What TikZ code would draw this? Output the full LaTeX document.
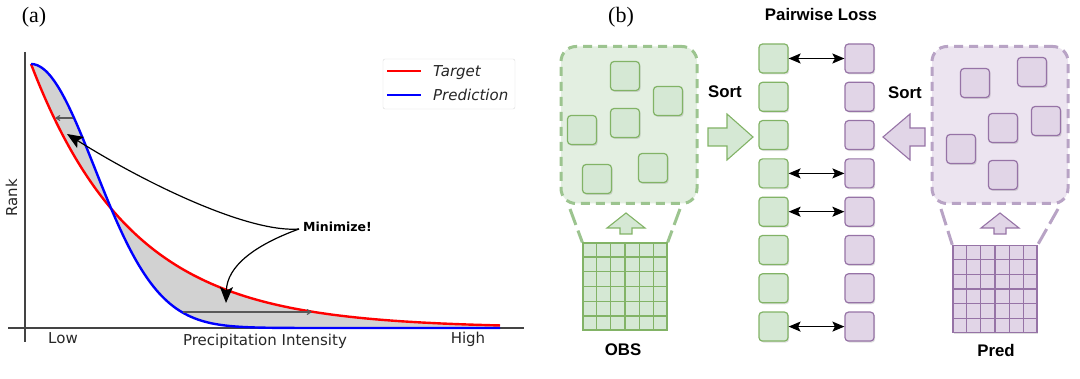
\documentclass[tikz,border=0pt]{standalone}
\usepackage{fontspec}
\usetikzlibrary{arrows.meta,calc,shadows}
\newfontfamily\djv{DejaVu Sans}
\newfontfamily\arl{Liberation Sans}
\newfontfamily\tnr{Liberation Serif}
\definecolor{gfill}{HTML}{D5E8D4}
\definecolor{gstroke}{HTML}{82B366}
\definecolor{gcont}{HTML}{E3EFE1}
\definecolor{gdash}{HTML}{9CC48F}
\definecolor{pfill}{HTML}{E1D5E7}
\definecolor{pstroke}{HTML}{9673A6}
\definecolor{pcont}{HTML}{ECE4F0}
\definecolor{pdash}{HTML}{B8A3C5}
\definecolor{axisgray}{HTML}{444444}
\tikzset{
  sqbox/.style={draw=#1stroke, fill=#1fill, line width=1.2pt, rounded corners=3.5pt,
    minimum width=29pt, minimum height=29pt, inner sep=0pt,
    drop shadow={shadow xshift=1.2pt, shadow yshift=-1.5pt, opacity=0.25}},
  contbox/.style={draw=#1dash, fill=#1cont, line width=3pt, dash pattern=on 9pt off 6pt,
    rounded corners=15pt, minimum width=136pt, minimum height=157pt, inner sep=0pt},
  gridbox/.style={draw=#1stroke, fill=#1fill, line width=1.4pt, minimum width=84pt,
    minimum height=87pt, inner sep=0pt,
    drop shadow={shadow xshift=1.2pt, shadow yshift=-1.5pt, opacity=0.25}},
  trap/.style={draw=#1dash, line width=3pt, dash pattern=on 17pt off 6pt},
  blockarrow/.style={draw=#1stroke, fill=#1fill, line width=1.1pt, line join=miter},
  pairarrow/.style={{Stealth[length=12pt,width=10pt,inset=2.5pt]}-{Stealth[length=12pt,width=10pt,inset=2.5pt]}, line width=1.5pt, black},
  btext/.style={font=\arl\bfseries\fontsize{16.8}{18}\selectfont, inner sep=0pt},
  axtext/.style={font=\djv\fontsize{15}{17}\selectfont, inner sep=0pt, text=black!85},
  bigtip/.style={-{Stealth[length=16pt,width=13pt,inset=3.5pt]}, line width=1.2pt, black},
  smalltip/.style={-{Straight Barb[length=4pt,width=5pt]}, line width=1.1pt, black!65},
}
\begin{document}
\begin{tikzpicture}[x=1pt,y=-1pt]
\useasboundingbox (0,0) rectangle (1080,379);

% ---------------- panel (a) ----------------
\node (la) [font=\tnr\fontsize{22}{24}\selectfont, inner sep=0pt] at (34,17) {(a)};

% shaded area between curves
\fill[gray!35] plot[domain=31:500, samples=150, smooth] (\x,{328-264*exp(-(\x-31)/101)})
  -- plot[domain=500:31, samples=150, smooth] (\x,{328-264*exp(-((\x-31)/90)^2)}) -- cycle;

% axes
\coordinate (yaxtop) at (25,52);
\coordinate (yaxbot) at (25,342);
\coordinate (xaxl) at (8,328);
\coordinate (xaxr) at (524,328);
\draw[axisgray, line width=1.3pt] (yaxtop) -- (yaxbot);
\draw[axisgray, line width=1.3pt] (xaxl) -- (xaxr);

% curves
\draw[red, line width=2.4pt] plot[domain=31:500, samples=150, smooth] (\x,{328-264*exp(-(\x-31)/101)});
\draw[blue, line width=2.4pt] plot[domain=31:500, samples=150, smooth] (\x,{328-264*exp(-((\x-31)/90)^2)});

% small gray arrows
\coordinate (ba1) at (73,118);
\coordinate (ra1) at (55,118);
\draw[smalltip] (ba1) -- (ra1);
\coordinate (ba2) at (183,312);
\coordinate (ra2) at (312,312);
\draw[smalltip] (ba2) -- (ra2);

% Minimize annotation
\node (minz) [font=\djv\bfseries\fontsize{12.5}{14}\selectfont, anchor=base west, inner sep=0pt] at (303,232) {Minimize!};
\coordinate (mz) at (299,229);
\coordinate (t1) at (67,134);
\coordinate (t2) at (226,303);
\draw[bigtip] (mz) .. controls (250,233) and (150,186) .. (t1);
\draw[bigtip] (mz) .. controls (255,245) and (227,266) .. (t2);

% legend
\node (leg) [draw=gray!30, fill=white, rounded corners=2pt, minimum width=132pt, minimum height=50pt, inner sep=0pt] at (449,84) {};
\coordinate (lr1) at (387,71);
\coordinate (lr2) at (421,71);
\coordinate (lb1) at (387,95);
\coordinate (lb2) at (421,95);
\draw[red, line width=2.2pt] (lr1) -- (lr2);
\draw[blue, line width=2.2pt] (lb1) -- (lb2);
\node (ltar) [font=\djv\itshape\fontsize{15}{17}\selectfont, anchor=base west, inner sep=0pt, text=black!85] at (433,77) {Target};
\node (lpred) [font=\djv\itshape\fontsize{15}{17}\selectfont, anchor=base west, inner sep=0pt, text=black!85] at (433,101) {Prediction};

% axis labels
\node (low) [axtext, anchor=base] at (63,344) {Low};
\node (pint) [axtext, anchor=base] at (265,346) {Precipitation Intensity};
\node (high) [axtext, anchor=base] at (468,344) {High};
\node (rank) [axtext, anchor=base, rotate=90] at (17,198) {Rank};

% ---------------- panel (b) ----------------
\node (lb) [font=\tnr\fontsize{22}{24}\selectfont, inner sep=0pt] at (621,17) {(b)};
\node (pl) [btext] at (821,14.5) {Pairwise Loss};

% containers
\node (gbox) [contbox=g] at (629,125) {};
\node (pbox) [contbox=p] at (1000,125) {};

\node (gs1) [sqbox=g] at (625,76) {};
\node (gs2) [sqbox=g] at (668,101) {};
\node (gs3) [sqbox=g] at (582,130) {};
\node (gs4) [sqbox=g] at (625,123) {};
\node (gs5) [sqbox=g] at (653,168) {};
\node (gs6) [sqbox=g] at (597,179) {};

\node (ps1) [sqbox=p] at (975,83) {};
\node (ps2) [sqbox=p] at (1032,72) {};
\node (ps3) [sqbox=p] at (1046,121) {};
\node (ps4) [sqbox=p] at (1003,128) {};
\node (ps5) [sqbox=p] at (961,149) {};
\node (ps6) [sqbox=p] at (1003,175) {};

% grids
\node (ggrid) [gridbox=g] at (625,286.5) {};
\node (pgrid) [gridbox=p] at (995,289) {};
\foreach \g/\c in {ggrid/gstroke, pgrid/pstroke}{
  \foreach \i in {1,...,5}{
    \draw[\c, line width=1.3pt] ($(\g.north west)!\i/6!(\g.north east)$) -- ($(\g.south west)!\i/6!(\g.south east)$);
    \draw[\c, line width=1.3pt] ($(\g.north west)!\i/6!(\g.south west)$) -- ($(\g.north east)!\i/6!(\g.south east)$);
  }
}

% trapezoid lines
\coordinate (gtl) at (570,209);
\coordinate (gtr) at (680,209);
\draw[trap=g] (gtl) -- (ggrid.north west);
\draw[trap=g] (gtr) -- (ggrid.north east);
\coordinate (ptl) at (941,209);
\coordinate (ptr) at (1058,209);
\draw[trap=p] (ptl) -- (pgrid.north west);
\draw[trap=p] (ptr) -- (pgrid.north east);

% small up arrows
\draw[blockarrow=g] (626,213) -- (645,228) -- (632,228) -- (632,234) -- (620,234) -- (620,228) -- (607,228) -- cycle;
\draw[blockarrow=p] (1000,213) -- (1019,228) -- (1006,228) -- (1006,234) -- (994,234) -- (994,228) -- (981,228) -- cycle;

% sort arrows
\draw[blockarrow=g] (708,128) -- (727,128) -- (727,114) -- (753,137) -- (727,160) -- (727,146) -- (708,146) -- cycle;
\draw[blockarrow=p] (925,128) -- (910,128) -- (910,114) -- (883,137) -- (910,160) -- (910,146) -- (925,146) -- cycle;
\node (sortl) [btext] at (725,92) {Sort};
\node (sortr) [btext] at (905,93) {Sort};

% columns
\foreach \i in {1,...,8}{
  \node (g\i) [sqbox=g] at (773.5,{58.5+38.3*(\i-1)}) {};
  \node (p\i) [sqbox=p] at (859.5,{58.5+38.3*(\i-1)}) {};
}
\foreach \i in {1,4,5,8}{
  \draw[pairarrow] (g\i.east) -- (p\i.west);
}

\node (obs) [btext] at (623,350) {OBS};
\node (pred) [btext] at (996,350) {Pred};
\end{tikzpicture}
\end{document}
